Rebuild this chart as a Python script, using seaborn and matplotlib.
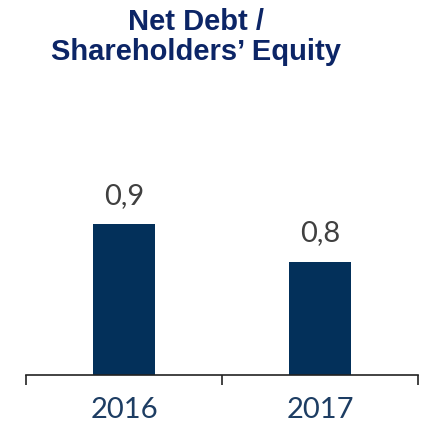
import matplotlib
matplotlib.use('Agg')
import matplotlib.pyplot as plt
import seaborn as sns

# Chart data
years = ['2016', '2017']
ratios = [0.9, 0.8]
value_labels = ['0,9', '0,8']

sns.set_style('white')
plt.rcParams['font.family'] = ['Lato', 'DejaVu Sans']

bar_color = '#03305a'

fig = plt.figure(figsize=(4.3105, 4.2605), dpi=100)
# axes placed in pixel terms: x 26..418, bottom at y=375, top at y=150
ax = fig.add_axes([26 / 431, 51 / 426, 392 / 431, 225 / 426])

sns.barplot(x=years, y=ratios, color=bar_color, width=0.316, saturation=1,
            edgecolor=bar_color, linewidth=0, ax=ax)

ax.set_xlim(-0.5, 1.5)
ax.set_ylim(0.5, 0.5 + 225 / 377.5)

ax.bar_label(ax.containers[0], labels=value_labels, padding=11,
             fontsize=21, color='#404040')

sns.despine(ax=ax, left=True, top=True, right=True)
ax.spines['bottom'].set_color('#222222')
ax.spines['bottom'].set_linewidth(1.2)
ax.set_yticks([])

# year labels without tick marks, separators as minor ticks
ax.set_xticks([0, 1])
ax.set_xticklabels(years, fontsize=21, color='#1d3d63')
ax.set_xticks([-0.5, 0.5, 1.5], minor=True)
ax.tick_params(axis='x', which='both', bottom=True)
ax.tick_params(axis='x', which='major', length=0, pad=16)
ax.tick_params(axis='x', which='minor', length=7, width=1.2, color='#222222', direction='out')

fig.text(196 / 431, 1 - 8 / 426, 'Net Debt /\nShareholders\u2019 Equity',
         ha='center', va='top', fontsize=21, fontweight='bold',
         fontfamily='Liberation Sans', color='#0c2566',
         linespacing=1.1)

ax.set_xlabel('')
ax.set_ylabel('')
fig.savefig('out.png', dpi=100)
